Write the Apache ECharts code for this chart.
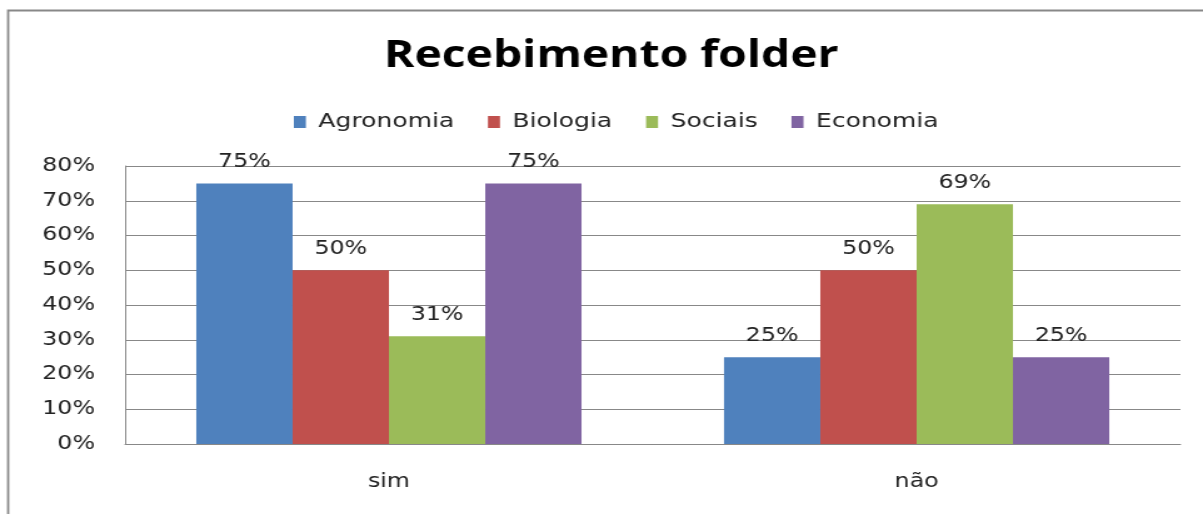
<!DOCTYPE html>
<html>
<head>
<meta charset="utf-8">
<script src="https://cdn.jsdelivr.net/npm/echarts@6/dist/echarts.min.js"></script>
<style>
html,body{margin:0;padding:0;background:#fff;overflow:hidden;}
/* the source picture is stretched sideways, so the chart is drawn narrower and widened */
#chart{width:962px;height:514px;transform:scaleX(1.2505);transform-origin:0 0;}
</style>
</head>
<body>
<div id="chart"></div>
<script>
const categories = ['sim', 'não'];
const seriesNames = ['Agronomia', 'Biologia', 'Sociais', 'Economia'];
const colors = ['#4f81bd', '#c0504d', '#9bbb59', '#8064a2'];
const agronomia = [75, 25];
const biologia = [50, 50];
const sociais = [31, 69];
const economia = [75, 25];
const values = [agronomia, biologia, sociais, economia];

const font = '"DejaVu Sans", sans-serif';
let chart = echarts.init(document.getElementById('chart'));

let option = {
    animation: false,
    textStyle: {fontFamily: font},
    graphic: [{
        type: 'rect',
        shape: {x: 6.5, y: 10.5, width: 1300, height: 600},
        style: {fill: 'none', stroke: '#888', lineWidth: 1.8}
    }],
    title: {
        text: 'Recebimento folder',
        left: 302,
        top: 33,
        textStyle: {fontFamily: '"Open Sans", sans-serif', fontSize: 37, fontWeight: 'bold', color: '#000'}
    },
    legend: {
        top: 107,
        left: 230,
        itemWidth: 9.6,
        itemHeight: 12,
        itemGap: 27,
        icon: 'rect',
        data: seriesNames,
        textStyle: {fontFamily: font, fontSize: 20, color: '#222', padding: [0, 0, 0, 5]}
    },
    grid: {left: 100, right: 18, top: 166, bottom: 70, containLabel: false},
    xAxis: {
        type: 'category',
        data: categories,
        axisLine: {lineStyle: {color: '#888'}},
        axisTick: {show: false},
        axisLabel: {fontSize: 19, color: '#222', margin: 29, fontFamily: font}
    },
    yAxis: {
        type: 'value',
        min: 0,
        max: 80,
        interval: 10,
        axisLine: {show: true, lineStyle: {color: '#888'}},
        axisTick: {show: false},
        splitLine: {lineStyle: {color: '#888'}},
        axisLabel: {formatter: '{value}%', fontSize: 19, color: '#222', margin: 24, fontFamily: font}
    },
    series: seriesNames.map((name, i) => ({
        name: name,
        type: 'bar',
        data: values[i],
        barGap: '0%',
        barCategoryGap: '27%',
        itemStyle: {color: colors[i]},
        label: {
            show: true,
            position: 'top',
            distance: 12,
            formatter: '{c}%',
            fontSize: 19,
            color: '#222',
            fontFamily: font
        }
    }))
};
chart.setOption(option);
</script>
</body>
</html>
